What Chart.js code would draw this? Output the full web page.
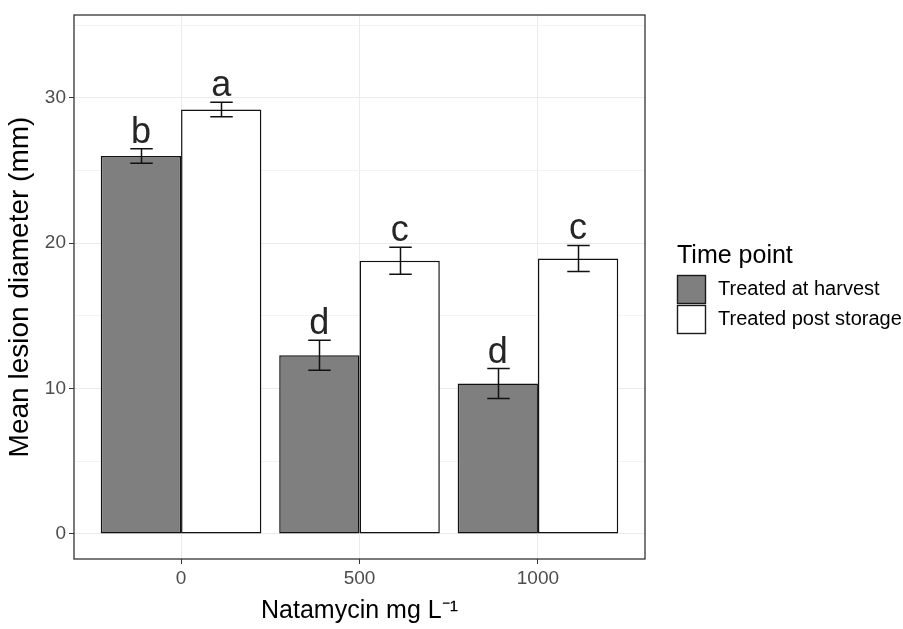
<!DOCTYPE html>
<html><head><meta charset="utf-8">
<script src="https://cdn.jsdelivr.net/npm/chart.js@4"></script>
<style>html,body{margin:0;padding:0;background:#fff}canvas{display:block}</style>
</head><body>
<canvas id="c" width="903" height="629"></canvas>
<script>
// ---- data ----
const doses = ['0', '500', '1000'];
const seriesNames = ['Treated at harvest', 'Treated post storage'];
const harvestMeans = [26.0, 12.3, 10.35];
const harvestErr = [0.5, 1.03, 1.03];
const postMeans = [29.2, 18.8, 18.95];
const postErr = [0.5, 0.93, 0.9];
const harvestLetters = ['b', 'd', 'd'];
const postLetters = ['a', 'c', 'c'];
const yMajorTicks = [0, 10, 20, 30];
const yMinorTicks = [5, 15, 25, 35];
const xTitle = 'Natamycin mg L\u207B\u00B9';
const yTitle = 'Mean lesion diameter (mm)';
const legendTitle = 'Time point';

const FONT = "'Liberation Sans', Arial, sans-serif";

const errLetterPlugin = {
  id: 'errLetters',
  afterDatasetsDraw(chart) {
    const ctx = chart.ctx, ys = chart.scales.y;
    ctx.save();
    chart.data.datasets.forEach((ds, i) => {
      const meta = chart.getDatasetMeta(i);
      meta.data.forEach((el, j) => {
        const v = ds.data[j].y, e = ds.err[j];
        const x = Math.round(el.x) + 0.5;
        const yt = ys.getPixelForValue(v + e), yb = ys.getPixelForValue(v - e);
        const hw = el.width * 0.14;
        ctx.strokeStyle = '#111';
        ctx.lineWidth = 1.5;
        ctx.beginPath();
        ctx.moveTo(x, yt); ctx.lineTo(x, yb);
        ctx.moveTo(x - hw, yt); ctx.lineTo(x + hw, yt);
        ctx.moveTo(x - hw, yb); ctx.lineTo(x + hw, yb);
        ctx.stroke();
        ctx.fillStyle = '#262626';
        ctx.font = '36px ' + FONT;
        ctx.textAlign = 'center';
        ctx.textBaseline = 'alphabetic';
        ctx.fillText(ds.letters[j], el.x, yt - 6);
      });
    });
    ctx.restore();
  },
  afterDraw(chart) {
    const ctx = chart.ctx, a = chart.chartArea;
    ctx.save();
    // panel border
    ctx.strokeStyle = '#333333';
    ctx.lineWidth = 1.3;
    ctx.strokeRect(a.left, a.top, a.right - a.left, a.bottom - a.top);
    // legend
    const x0 = a.right + 32;
    ctx.fillStyle = '#000';
    ctx.textAlign = 'left';
    ctx.textBaseline = 'alphabetic';
    ctx.font = '25px ' + FONT;
    ctx.fillText(legendTitle, x0, 263);
    chart.data.datasets.forEach((ds, i) => {
      const y = 275 + i * 30;
      ctx.fillStyle = ds.backgroundColor;
      ctx.fillRect(x0, y, 29, 29);
      ctx.strokeStyle = '#1a1a1a';
      ctx.lineWidth = 1.4;
      ctx.strokeRect(x0 + 0.5, y + 0.5, 28, 28);
      ctx.fillStyle = '#000';
      ctx.font = '20px ' + FONT;
      ctx.textBaseline = 'middle';
      ctx.fillText(ds.label, x0 + 41, y + 14.5);
      ctx.textBaseline = 'alphabetic';
    });
    ctx.restore();
  }
};

new Chart(document.getElementById('c'), {
  type: 'bar',
  data: {
    datasets: [
      {
        label: seriesNames[0],
        data: doses.map((d, i) => ({x: i, y: harvestMeans[i]})),
        err: harvestErr, letters: harvestLetters,
        backgroundColor: '#7F7F7F', borderColor: '#111111', borderWidth: 1.5, borderSkipped: false
      },
      {
        label: seriesNames[1],
        data: doses.map((d, i) => ({x: i, y: postMeans[i]})),
        err: postErr, letters: postLetters,
        backgroundColor: '#FFFFFF', borderColor: '#111111', borderWidth: 1.5, borderSkipped: false
      }
    ]
  },
  options: {
    responsive: false, animation: false, devicePixelRatio: 1,
    categoryPercentage: 0.9, barPercentage: 1.0,
    layout: {padding: {top: 15, right: 258, left: 0, bottom: 0}},
    plugins: {legend: {display: false}, tooltip: {enabled: false}},
    scales: {
      x: {
        type: 'linear', min: -0.6, max: 2.6, offset: false,
        afterBuildTicks: s => { s.ticks = doses.map((d, i) => ({value: i})); },
        afterFit: s => { s.height = 70; },
        border: {display: false},
        grid: {offset: false, color: '#EBEBEB', lineWidth: 1, tickLength: 5, tickColor: '#333333', drawTicks: true},
        ticks: {callback: v => doses[v], color: '#4D4D4D', font: {family: FONT, size: 19}, padding: 3, maxRotation: 0, autoSkip: false},
        title: {display: true, text: xTitle, color: '#000', font: {family: FONT, size: 25}, padding: {top: 0, bottom: 3}}
      },
      y: {
        min: -1.72, max: 35.7,
        afterBuildTicks: s => { s.ticks = yMajorTicks.concat(yMinorTicks).sort((a, b) => a - b).map(v => ({value: v})); },
        afterFit: s => { s.width = 74; },
        border: {display: false},
        grid: {
          color: c => (c.tick && c.tick.value % 10 === 0) ? '#EBEBEB' : '#F3F3F3',
          lineWidth: 1, tickLength: 5,
          tickColor: c => (c.tick && c.tick.value % 10 === 0) ? '#333333' : 'rgba(0,0,0,0)',
          drawTicks: true
        },
        ticks: {callback: v => yMajorTicks.includes(v) ? String(v) : '', color: '#4D4D4D', font: {family: FONT, size: 19}, padding: 3, autoSkip: false},
        title: {display: true, text: yTitle, color: '#000', font: {family: FONT, size: 28}, padding: {top: 3, bottom: 0}}
      }
    }
  },
  plugins: [errLetterPlugin]
});
</script>
</body></html>
